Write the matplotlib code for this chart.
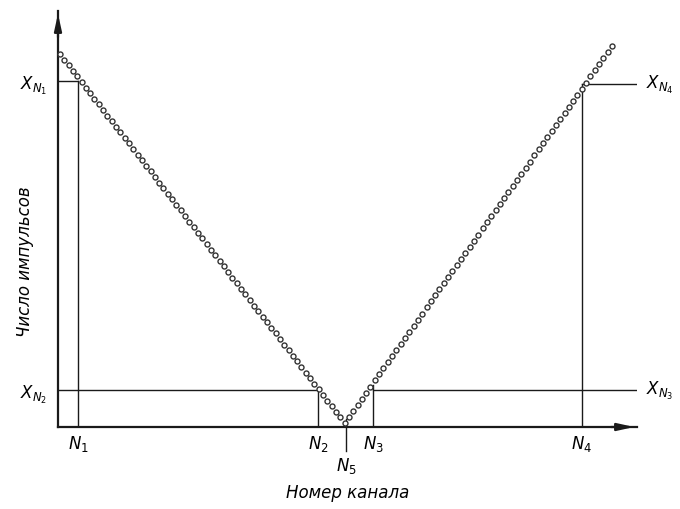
import matplotlib
matplotlib.use("Agg")
import matplotlib.pyplot as plt

# channel numbers and pulse counts
channels = list(range(0, 129))
counts = [373, 367, 362, 356, 351, 345, 339, 334, 328, 323,
          317, 311, 306, 300, 295, 289, 284, 278, 272, 267,
          261, 256, 250, 244, 239, 233, 228, 222, 217, 211,
          205, 200, 194, 189, 183, 177, 172, 166, 161, 155,
          149, 144, 138, 133, 127, 121, 116, 110, 105, 99,
          94, 88, 82, 77, 71, 66, 60, 54, 49, 43,
          38, 32, 26, 21, 15, 10, 4,
          10, 16, 22, 28, 34, 40, 47, 53, 59, 65,
          71, 77, 83, 89, 95, 101, 107, 113, 120, 126,
          132, 138, 144, 150, 156, 162, 168, 174, 180, 186,
          192, 199, 205, 211, 217, 223, 229, 235, 241, 247,
          253, 259, 265, 272, 278, 284, 290, 296, 302, 308,
          314, 320, 326, 332, 338, 344, 351, 357, 363, 369,
          375, 381]

# marked channels and levels
N1, N2, N5, N3, N4 = 4.2, 59.8, 66.3, 72.6, 121.0
X_N1, X_N2, X_N3, X_N4 = 346, 37, 37, 343
N3_top = 42
N5_top = 8

tick_pos = [N1, N2, N3, N4]
tick_labels = [r'$N_1$', r'$N_2$', r'$N_3$', r'$N_4$']

plt.rcParams['mathtext.fontset'] = 'dejavusans'
plt.rcParams['font.family'] = ['DejaVu Sans']

fig = plt.figure(figsize=(6.8, 5.1), dpi=100)
ax = fig.add_axes([58/680, 82/510, (637-58)/680, (428-12)/510])
ax.set_xlim(-0.46, 133.8)
ax.set_ylim(0, 416)

ink = '#1a1a1a'
for s in ['top', 'right']:
    ax.spines[s].set_visible(False)
for s in ['left', 'bottom']:
    ax.spines[s].set_linewidth(1.6)
    ax.spines[s].set_color(ink)

# arrow heads
ax.annotate('', xy=(0, 1.0), xytext=(0, 0.93), xycoords='axes fraction',
            arrowprops=dict(arrowstyle='-|>,head_length=1.0,head_width=0.22',
                            color=ink, lw=1.6))
ax.annotate('', xy=(1.0, 0), xytext=(0.95, 0), xycoords='axes fraction',
            arrowprops=dict(arrowstyle='-|>,head_length=1.0,head_width=0.22',
                            color=ink, lw=1.6))

# guide lines
lw = 1.0
ax.plot([N1, N1], [0, X_N1], color=ink, lw=lw)
ax.plot([ax.get_xlim()[0], N1], [X_N1, X_N1], color=ink, lw=lw)
ax.plot([ax.get_xlim()[0], N2], [X_N2, X_N2], color=ink, lw=lw)
ax.plot([N2, N2], [0, X_N2], color=ink, lw=lw)
ax.plot([N3, N3], [0, N3_top], color=ink, lw=lw)
ax.plot([N3, 133.5], [X_N3, X_N3], color=ink, lw=lw)
ax.plot([N4, N4], [0, X_N4], color=ink, lw=lw)
ax.plot([N4, 133.5], [X_N4, X_N4], color=ink, lw=lw)
ax.plot([N5, N5], [N5_top, -24], color=ink, lw=lw, clip_on=False)

# data points
ax.plot(channels, counts, linestyle='none', marker='o', markersize=3.6,
        markerfacecolor='white', markeredgecolor='#333333',
        markeredgewidth=1.0, clip_on=False, zorder=3)

# ticks
ax.set_xticks(tick_pos)
ax.set_xticklabels(tick_labels, fontsize=12)
ax.tick_params(axis='x', length=0, pad=4)
ax.set_yticks([X_N1, X_N2])
ax.set_yticklabels([r'$X_{N_1}$', r'$X_{N_2}$'], fontsize=12)
ax.tick_params(axis='y', length=0, pad=8)

ax.text(N5, -28, r'$N_5$', ha='center', va='top', fontsize=12)
ax.text(1.015, X_N4, r'$X_{N_4}$', transform=ax.get_yaxis_transform(),
        ha='left', va='center', fontsize=12)
ax.text(1.015, X_N3, r'$X_{N_3}$', transform=ax.get_yaxis_transform(),
        ha='left', va='center', fontsize=12)

ax.set_xlabel('Номер канала', fontsize=12, style='italic', labelpad=22)
ax.set_ylabel('Число импульсов', fontsize=12, style='italic')
ax.yaxis.set_label_coords(-0.042, 0.40)

fig.savefig('out.png', dpi=100)
